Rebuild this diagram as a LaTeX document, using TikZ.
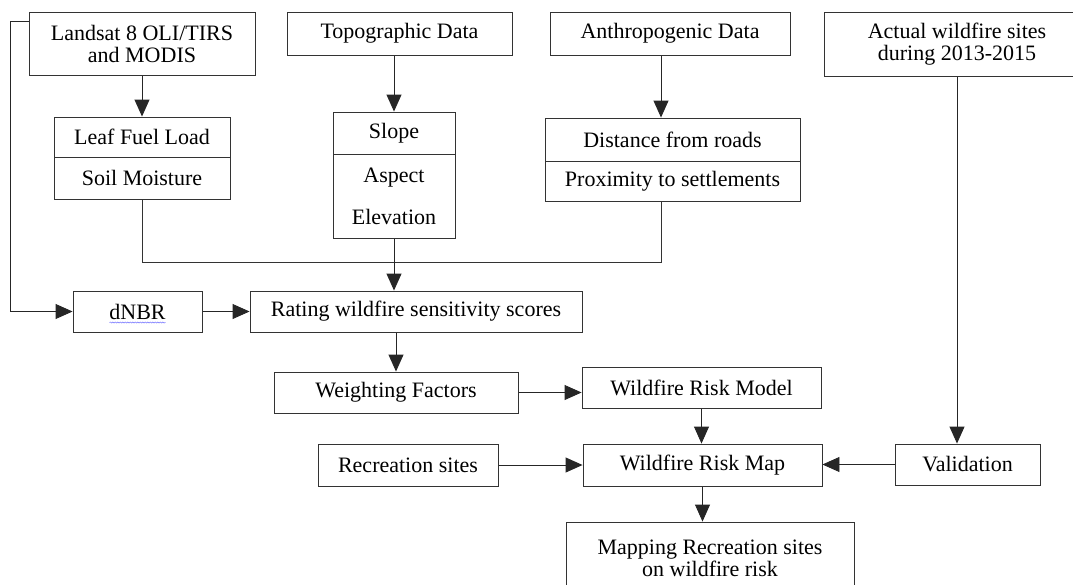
\documentclass[tikz,border=0pt]{standalone}
\usepackage{fontspec}
\setmainfont{Liberation Serif}
\usetikzlibrary{arrows.meta}
\usetikzlibrary{decorations.pathmorphing}
\pgfdeclarelayer{edgelayer}
\pgfdeclarelayer{nodelayer}
\pgfsetlayers{edgelayer,nodelayer,main}
\tikzstyle{box}=[rectangle,fill=white,draw=black!80,line width=0.9pt,inner sep=0pt,align=center,font=\fontsize{22}{22}\selectfont]
\tikzstyle{transition}=[-{Triangle[length=17pt,width=15pt]},draw=black!85,line width=0.9pt]
\tikzstyle{link}=[draw=black!80,line width=0.9pt]

\begin{document}
\begin{tikzpicture}[x=1pt,y=-1pt]
	\useasboundingbox (0,0) rectangle (1073,584);
	\begin{pgfonlayer}{nodelayer}
		\node [style=box, minimum width=226, minimum height=63] (0) at (142, 43.5) {Landsat 8 OLI/TIRS\\and MODIS};
		\node [style=box, minimum width=225, minimum height=43] (1) at (399.5, 33.5) {Topographic Data};
		\node [style=box, minimum width=240, minimum height=43] (2) at (670, 33.5) {Anthropogenic Data};
		\node [style=box, minimum width=266, minimum height=64] (3) at (957, 44) {Actual wildfire sites\\during 2013-2015};
		\node [style=box, minimum width=176, minimum height=40] (4) at (142, 137) {Leaf Fuel Load};
		\node [style=box, minimum width=176, minimum height=42] (5) at (142, 178) {Soil Moisture};
		\node [style=box, minimum width=122, minimum height=42] (6) at (394, 133) {Slope};
		\node [style=box, minimum width=122, minimum height=84] (7) at (394, 196) {Aspect\\[20pt]Elevation};
		\node [style=box, minimum width=255, minimum height=43] (8) at (672.5, 139.5) {Distance from roads};
		\node [style=box, minimum width=255, minimum height=40] (9) at (672.5, 181) {Proximity to settlements};
		\node [style=box, minimum width=129, minimum height=41] (10) at (137.5, 311.5) {dNBR};
		\node [style=box, minimum width=332, minimum height=41] (11) at (416, 311.5) {Rating wildfire sensitivity scores};
		\node [style=box, minimum width=244, minimum height=41] (12) at (396, 392.5) {Weighting Factors};
		\node [style=box, minimum width=239, minimum height=41] (13) at (701.5, 387.5) {Wildfire Risk Model};
		\node [style=box, minimum width=180, minimum height=42] (14) at (408, 465) {Recreation sites};
		\node [style=box, minimum width=239, minimum height=42] (15) at (702.5, 465) {Wildfire Risk Map};
		\node [style=box, minimum width=145, minimum height=41] (16) at (967.5, 464.5) {Validation};
		\node [style=box, minimum width=288, minimum height=72] (17) at (710, 558) {Mapping Recreation sites\\on wildfire risk};
		\draw [blue!55, line width=0.5pt, decorate, decoration={snake, amplitude=0.6pt, segment length=2.5pt}] ([xshift=-28pt, yshift=-11pt]10.center) -- ([xshift=28pt, yshift=-11pt]10.center);
	\end{pgfonlayer}
	\begin{pgfonlayer}{edgelayer}
		\coordinate (j) at (661, 262);
		\draw [style=transition] (0) to (4);
		\draw [style=transition] (6.north |- 1.south) to (6.north);
		\draw [style=transition] (2.south -| j) to (8.north -| j);
		\draw [style=link] (5.south) |- (j) -- (9.south -| j);
		\draw [style=transition] (7.south) to (7.south |- 11.north);
		\draw [style=transition] ([yshift=22.5pt]0.west) -- ++(-18, 0) |- (10.west);
		\draw [style=transition] (10) to (11);
		\draw [style=transition] (12.north |- 11.south) to (12.north);
		\draw [style=transition] (12.east) to (12.east -| 13.west);
		\draw [style=transition] (13.south) to (13.south |- 15.north);
		\draw [style=transition] (14) to (15);
		\draw [style=transition] (16.west) to (16.west -| 15.east);
		\draw [style=transition] (3.south) to (3.south |- 16.north);
		\draw [style=transition] (15.south) to (15.south |- 17.north);
	\end{pgfonlayer}
\end{tikzpicture}
\end{document}
